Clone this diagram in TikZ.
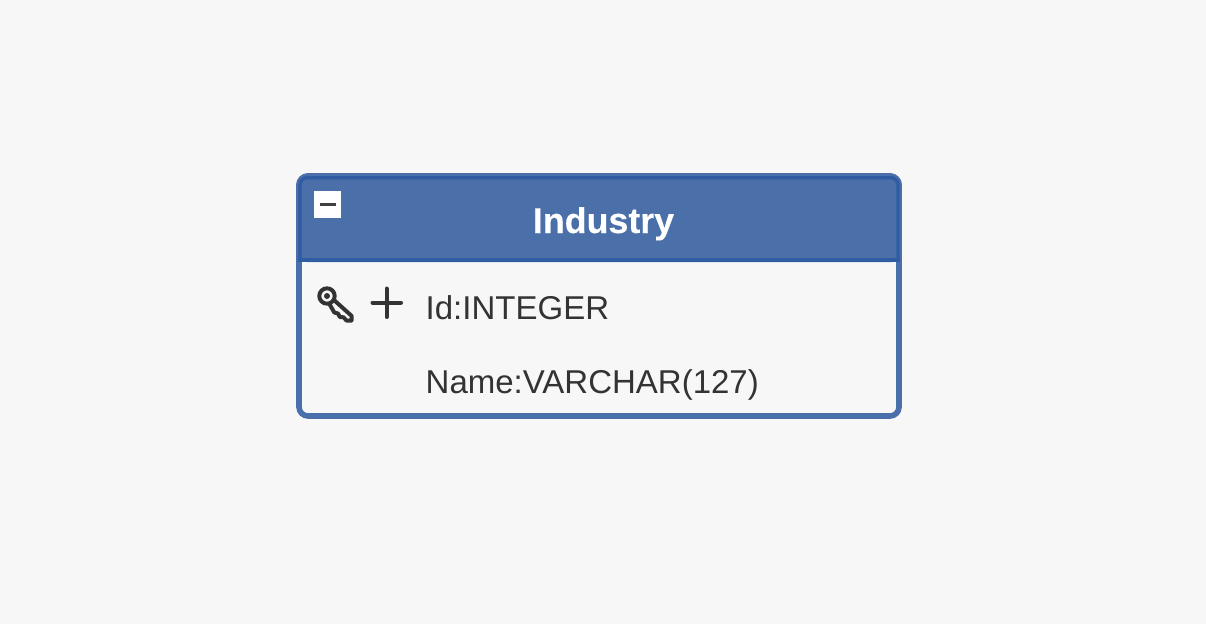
\documentclass[tikz,border=0pt]{standalone}
\usepackage{fontspec}
\setmainfont{Liberation Sans}
\definecolor{pagebg}{HTML}{F7F7F7}
\definecolor{framec}{HTML}{4A6FAB}
\definecolor{headc}{HTML}{4A6FA9}
\definecolor{innerc}{HTML}{2F5CA3}
\definecolor{textc}{HTML}{333333}
\tikzset{
  rowtext/.style={anchor=base west,inner sep=0pt,text=textc,font=\fontsize{33}{36}\selectfont},
  titletext/.style={anchor=base,inner sep=0pt,text=white,font=\fontsize{35.8}{40}\selectfont\bfseries},
  iconline/.style={draw=textc,line width=4pt,line cap=round,line join=round},
  plusline/.style={draw=textc,line width=4pt,line cap=round},
}
\begin{document}
\begin{tikzpicture}[x=1pt,y=-1pt]
\useasboundingbox (0,0) rectangle (1206,624);
\fill[pagebg] (0,0) rectangle (1206,624);
% table body
\draw[framec,line width=5.6pt,rounded corners=9pt] (299,176) rectangle (899,416);
% header
\fill[headc,rounded corners=8pt] (299,262) -- (299,176) -- (899,176) -- (899,262) -- cycle;
\draw[framec,line width=5.6pt,rounded corners=9pt] (299,262) -- (299,176) -- (899,176) -- (899,262);
% inner header line: rounded at the top, square at the bottom
\draw[innerc,line width=3.4pt,line cap=butt,rounded corners=7pt] (300,258) -- (300,177.7) -- (898,177.7) -- (898,258);
\draw[innerc,line width=4pt,line cap=butt] (298,260) -- (900,260);
\node[titletext] (title) at (603.5,233) {\addfontfeature{FakeBold=0.25}Industry};
% collapse button
\fill[white] (314,191) rectangle (341,218);
\draw[black!75,line width=2.6pt] (319.5,204.3) -- (335.5,204.3);
% key icon
\begin{scope}[iconline]
\draw (327,296) circle (7.7);
\fill[textc,draw=none] (327,296) circle (3);
\draw (334.5,300.5) -- (351.5,315.8) -- (351.5,320.5) -- (346.5,320.5) -- (343.5,317.3) -- (339.8,317) -- (338,313.5) -- (334.3,312.5) -- (330,305);
\end{scope}
% plus icon
\draw[plusline] (372.5,302.5) -- (401,302.5);
\draw[plusline] (386.7,288.5) -- (386.7,317);
% rows
\node[rowtext] (idrow) at (425.5,319) {Id:INTEGER};
\node[rowtext] (namerow) at (425.5,393) {Name:VARCHAR(127)};
\end{tikzpicture}
\end{document}
